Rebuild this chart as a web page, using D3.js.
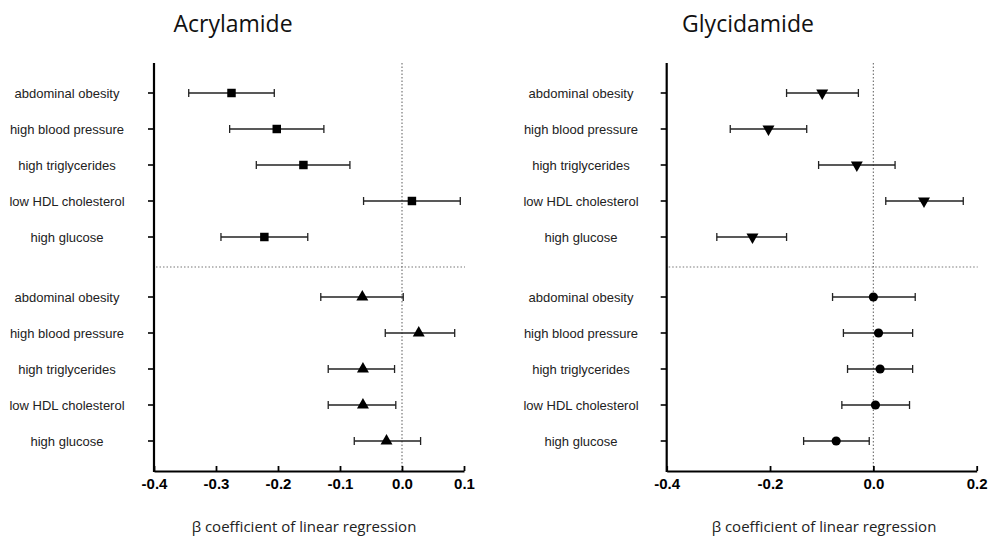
<!DOCTYPE html>
<html><head><meta charset="utf-8">
<script src="https://cdn.jsdelivr.net/npm/d3@7"></script>
<style>
body{margin:0;background:#fff;}
svg{display:block;}
</style></head>
<body>
<svg id="chart" width="989" height="539"></svg>
<script>
// ---- data ----
const categories = ["abdominal obesity","high blood pressure","high triglycerides","low HDL cholesterol","high glucose"];
const panelTitles = ["Acrylamide","Glycidamide"];
const axisTitle = "β coefficient of linear regression";

// Acrylamide, upper group (squares)
const acrTopEst  = [-0.275,-0.202,-0.159, 0.016,-0.222];
const acrTopLow  = [-0.344,-0.278,-0.235,-0.062,-0.292];
const acrTopHigh = [-0.206,-0.126,-0.084, 0.094,-0.152];
// Acrylamide, lower group (triangles)
const acrBotEst  = [-0.064, 0.027,-0.063,-0.063,-0.025];
const acrBotLow  = [-0.131,-0.027,-0.119,-0.119,-0.077];
const acrBotHigh = [ 0.002, 0.085,-0.012,-0.010, 0.030];
// Glycidamide, upper group (down triangles)
const glyTopEst  = [-0.099,-0.203,-0.032, 0.098,-0.234];
const glyTopLow  = [-0.168,-0.277,-0.106, 0.024,-0.303];
const glyTopHigh = [-0.029,-0.129, 0.042, 0.174,-0.168];
// Glycidamide, lower group (circles)
const glyBotEst  = [ 0.000, 0.010, 0.013, 0.004,-0.072];
const glyBotLow  = [-0.079,-0.058,-0.050,-0.061,-0.135];
const glyBotHigh = [ 0.081, 0.076, 0.076, 0.070,-0.008];

const acrTicks = [-0.4,-0.3,-0.2,-0.1,0.0,0.1];
const glyTicks = [-0.4,-0.2,0.0,0.2];

// ---- layout ----
const svg = d3.select("#chart");
const plotTop = 63, plotBottom = 471;
const labelFont = "'Liberation Sans', Arial, sans-serif";
const titleFont = "'Open Sans', Lato, sans-serif";

// row units: half-gap of 30px, row step 36px
const rowStep = 36, edge = 30/36;
const yScale = d3.scaleLinear().domain([0, (plotBottom-plotTop)/rowStep]).range([plotTop, plotBottom]);
const topRow = i => edge + i;
const sepRow = edge + 4 + edge;
const botRow = i => sepRow + edge + i;

const fmt = d3.formatLocale({decimal:".",thousands:",",grouping:[3],currency:["",""],minus:"-"}).format(".1f");

const panels = [
  {title:panelTitles[0], x0:154, x1:464, domain:[-0.4,0.1], ticks:acrTicks, labelX:67, titleX:233, axisTitleX:304,
   top:{est:acrTopEst,low:acrTopLow,high:acrTopHigh,sym:d3.symbolSquare, size:72, rot:0},
   bot:{est:acrBotEst,low:acrBotLow,high:acrBotHigh,sym:d3.symbolTriangle, size:62, rot:0}},
  {title:panelTitles[1], x0:666.7, x1:976.7, domain:[-0.4,0.2], ticks:glyTicks, labelX:581, titleX:748, axisTitleX:824,
   top:{est:glyTopEst,low:glyTopLow,high:glyTopHigh,sym:d3.symbolTriangle, size:62, rot:180},
   bot:{est:glyBotEst,low:glyBotLow,high:glyBotHigh,sym:d3.symbolCircle, size:66, rot:0}}
];

panels.forEach(p => {
  const g = svg.append("g");
  const x = d3.scaleLinear().domain(p.domain).range([p.x0, p.x1]);

  // title
  g.append("text").attr("x", p.titleX).attr("y", 32)
    .attr("text-anchor","middle").attr("font-family", titleFont)
    .attr("font-size", 23).attr("fill","#111").text(p.title);

  // zero reference (vertical dotted)
  g.append("line").attr("x1", x(0)).attr("x2", x(0))
    .attr("y1", plotTop).attr("y2", plotBottom)
    .attr("stroke","#777").attr("stroke-width",1.2).attr("stroke-dasharray","1.5,2");

  // horizontal separator
  g.append("line").attr("x1", p.x0+2).attr("x2", p.x1+1)
    .attr("y1", yScale(sepRow)).attr("y2", yScale(sepRow))
    .attr("stroke","#777").attr("stroke-width",1.2).attr("stroke-dasharray","1.5,2");

  // y axis ticks + labels
  const rows = [];
  categories.forEach((c,i) => rows.push({cat:c, y:yScale(topRow(i)), grp:p.top, i}));
  categories.forEach((c,i) => rows.push({cat:c, y:yScale(botRow(i)), grp:p.bot, i}));

  g.selectAll(".ytick").data(rows).join("line")
    .attr("x1", p.x0-6).attr("x2", p.x0).attr("y1", d=>d.y).attr("y2", d=>d.y)
    .attr("stroke","#000").attr("stroke-width",1.6);
  g.selectAll(".ylab").data(rows).join("text")
    .attr("x", p.labelX).attr("y", d=>d.y).attr("dy","0.35em")
    .attr("text-anchor","middle").attr("font-family", labelFont)
    .attr("font-size", 13).attr("fill","#222").text(d=>d.cat);

  // y axis line
  g.append("line").attr("x1", p.x0).attr("x2", p.x0).attr("y1", plotTop).attr("y2", plotBottom+1)
    .attr("stroke","#000").attr("stroke-width",2.2);

  // x axis
  const xAxis = d3.axisBottom(x).tickValues(p.ticks).tickFormat(fmt)
    .tickSizeInner(-5).tickSizeOuter(0).tickPadding(7);
  const ax = g.append("g").attr("transform", `translate(0,${plotBottom})`).call(xAxis);
  ax.select(".domain").attr("stroke","#000").attr("stroke-width",2.2);
  ax.selectAll(".tick line").attr("stroke","#000").attr("stroke-width",1.8);
  ax.selectAll(".tick text").attr("font-family", labelFont).attr("font-weight","bold")
    .attr("font-size", 15).attr("fill","#000");

  // axis title
  g.append("text").attr("x", p.axisTitleX).attr("y", 532)
    .attr("text-anchor","middle").attr("font-family", titleFont)
    .attr("font-size", 15).attr("fill","#222").text(axisTitle);

  // error bars
  const eb = g.selectAll(".eb").data(rows).join("g");
  eb.append("line").attr("x1", d=>x(d.grp.low[d.i])).attr("x2", d=>x(d.grp.high[d.i]))
    .attr("y1", d=>d.y).attr("y2", d=>d.y).attr("stroke","#222").attr("stroke-width",1.3);
  eb.append("line").attr("x1", d=>x(d.grp.low[d.i])).attr("x2", d=>x(d.grp.low[d.i]))
    .attr("y1", d=>d.y-4).attr("y2", d=>d.y+4).attr("stroke","#222").attr("stroke-width",1.3);
  eb.append("line").attr("x1", d=>x(d.grp.high[d.i])).attr("x2", d=>x(d.grp.high[d.i]))
    .attr("y1", d=>d.y-4).attr("y2", d=>d.y+4).attr("stroke","#222").attr("stroke-width",1.3);
  eb.append("path")
    .attr("d", d=>d3.symbol().type(d.grp.sym).size(d.grp.size)())
    .attr("transform", d=>`translate(${x(d.grp.est[d.i])},${d.y}) rotate(${d.grp.rot})`)
    .attr("fill","#000");
});
</script>
</body></html>
